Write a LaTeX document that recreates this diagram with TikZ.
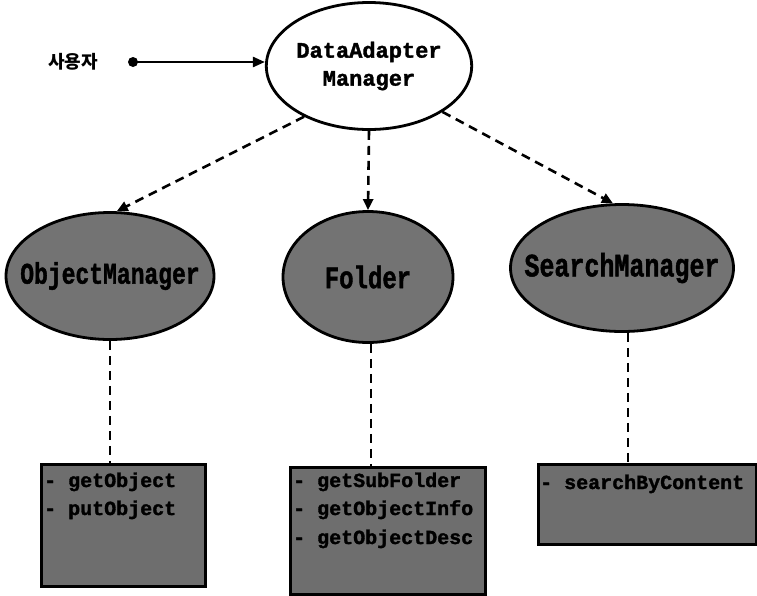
\documentclass[tikz,border=0pt]{standalone}
\usepackage{fontspec}
\usepackage{graphicx}
\setmonofont{Liberation Mono}
\newfontfamily\hmono{Liberation Mono}[BoldFeatures={FakeBold=1.6}]
\newfontfamily\kr{Noto Sans CJK KR}
\usetikzlibrary{shapes.geometric,arrows.meta}
\newcommand{\tallt}[1]{\scalebox{1}[1.3]{#1}}
\begin{document}
\begin{tikzpicture}[x=1pt,y=-1pt,
  ell/.style={ellipse,draw=black,line width=2.8pt,inner sep=0pt},
  grayell/.style={ell,fill=black!55},
  opbox/.style={rectangle,draw=black,line width=2.8pt,fill=black!57,inner sep=0pt,anchor=north west},
  optext/.style={anchor=base west,inner sep=0pt,font=\hmono\bfseries\fontsize{20}{24}\selectfont},
  dashline/.style={line width=2.6pt,dash pattern=on 9pt off 6pt},
  dasharrow/.style={dashline,-{Triangle[length=11pt,width=10pt]}}
]
\useasboundingbox (0,0) rectangle (757,595);
% top ellipse
\node[ell,fill=white,minimum width=192pt,minimum height=127pt,
      font=\hmono\bfseries\fontsize{22}{28}\selectfont,align=center] (top) at (369,66)
      {DataAdapter\\Manager};
% user
\node[font=\kr\bfseries\fontsize{18}{20}\selectfont,inner sep=0pt] (user) at (73,62) {사용자};
\coordinate (dot) at (133,62);
\fill (dot) circle (5pt);
\draw[line width=2.4pt,-{Triangle[length=12pt,width=10pt]}] (dot) -- (top.west |- dot);
% middle ellipses
\node[grayell,minimum width=208pt,minimum height=127pt] (obj) at (110,276)
  {\makebox[0pt]{\tallt{\hmono\bfseries\fontsize{23}{26}\selectfont ObjectManager}}};
\node[grayell,minimum width=170pt,minimum height=131pt] (fold) at (368,277)
  {\makebox[0pt]{\tallt{\hmono\bfseries\fontsize{24}{26}\selectfont Folder}}};
\node[grayell,minimum width=223pt,minimum height=127pt] (search) at (622,268)
  {\makebox[0pt]{\tallt{\hmono\bfseries\fontsize{25}{26}\selectfont SearchManager}}};
% dashed arrows
\draw[dasharrow] (top.218) -- (obj.84);
\draw[dasharrow] (top.south) -- (fold.north);
\draw[dasharrow] (top.-32) -- (search.98);
% boxes
\node[opbox,minimum width=164pt,minimum height=122pt] (b1) at (40,463) {};
\node[opbox,minimum width=195pt,minimum height=127pt] (b2) at (289,466) {};
\node[opbox,minimum width=218pt,minimum height=80pt] (b3) at (537,463) {};
% dashed connectors
\draw[dashline] (obj.south) -- (obj.south |- b1.north);
\draw[dashline] ([xshift=3pt]fold.south) -- ([xshift=3pt]fold.south |- b2.north);
\draw[dashline] ([xshift=6pt]search.south) -- ([xshift=6pt]search.south |- b3.north);
% box texts
\node[optext] (t11) at (44,487) {- getObject};
\node[optext] (t12) at (44,515) {- putObject};
\node[optext] (t21) at (293,487) {- getSubFolder};
\node[optext] (t22) at (293,515) {- getObjectInfo};
\node[optext] (t23) at (293,544) {- getObjectDesc};
\node[optext] (t31) at (540,489) {- searchByContent};
\end{tikzpicture}
\end{document}
